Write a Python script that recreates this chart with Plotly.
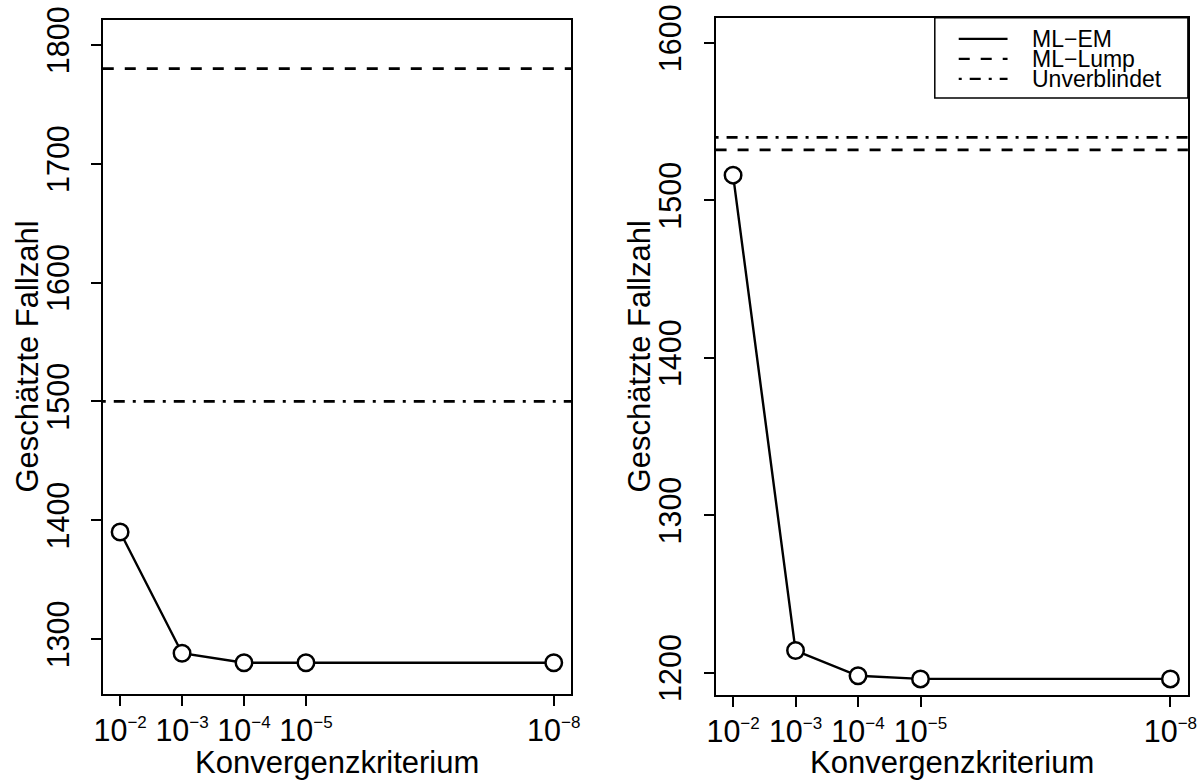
import plotly.graph_objects as go

# Convergence criteria (exponents of 10) and their positions on the x axis
exponents = [2, 3, 4, 5, 8]
x_positions = [1, 2, 3, 4, 8]

# Left panel: estimated sample size
left_ml_em = [1390, 1288, 1280, 1280, 1280]
left_ml_lump = 1780
left_unverblindet = 1500
left_yticks = [1300, 1400, 1500, 1600, 1700, 1800]

# Right panel: estimated sample size
right_ml_em = [1516, 1214, 1198, 1196, 1196]
right_ml_lump = 1532
right_unverblindet = 1540
right_yticks = [1200, 1300, 1400, 1500, 1600]

legend_labels = ["ML\u2212EM", "ML\u2212Lump", "Unverblindet"]

W, H = 1199, 780
FONT = "Liberation Sans, Arial, Helvetica, sans-serif"
DASH = "11px,11px"
DASHDOT = "3px,8px,11px,8px"

# Layout positions are written in screen pixels; the page places the figure
# with a small offset and scale, which these helpers undo.
OFF_X, SCALE_X = 7.9, 0.9885
OFF_Y, SCALE_Y = 12.6, 0.974


def px(x):
    return ((x - OFF_X) / SCALE_X) / W


def py(y):
    return 1 - ((y - OFF_Y) / SCALE_Y) / H


x_ticktext = [f"10<sup><span style='font-size:17px'>\u2212{e}</span></sup>" for e in exponents]

fig = go.Figure()

for ml_em, xa, ya in [(left_ml_em, "x", "y"), (right_ml_em, "x2", "y2")]:
    fig.add_trace(go.Scatter(
        x=x_positions, y=ml_em, xaxis=xa, yaxis=ya,
        mode="lines+markers",
        line=dict(color="black", width=2.4),
        marker=dict(symbol="circle", size=16.5, color="white",
                    line=dict(color="black", width=2.5)),
        showlegend=False, hoverinfo="skip",
    ))

shapes = []
for xa, ya, lump, unv in [("x", "y", left_ml_lump, left_unverblindet),
                          ("x2", "y2", right_ml_lump, right_unverblindet)]:
    shapes.append(dict(type="line", xref=f"{xa} domain", yref=ya,
                       x0=0, x1=1, y0=lump, y1=lump,
                       line=dict(color="black", width=2.8, dash=DASH), layer="below"))
    shapes.append(dict(type="line", xref=f"{xa} domain", yref=ya,
                       x0=0, x1=1, y0=unv, y1=unv,
                       line=dict(color="black", width=2.8, dash=DASHDOT), layer="below"))

# Legend box in the top-right corner of the right panel
shapes.append(dict(type="rect", xref="paper", yref="paper",
                   x0=px(937), x1=px(1191), y0=py(97.5), y1=py(17.3),
                   line=dict(color="black", width=1.5), fillcolor="white", layer="above"))
legend_rows = [38.5, 58.5, 78.5]
for row_y, dash in zip(legend_rows, ["solid", DASH, DASHDOT]):
    shapes.append(dict(type="line", xref="paper", yref="paper",
                       x0=px(961), x1=px(1010), y0=py(row_y), y1=py(row_y),
                       line=dict(color="black", width=2.2, dash=dash), layer="above"))

annotations = []
for row_y, label in zip(legend_rows, legend_labels):
    annotations.append(dict(x=px(1033), y=py(row_y), xref="paper", yref="paper",
                            text=label, showarrow=False, xanchor="left", yanchor="middle",
                            font=dict(family=FONT, size=23, color="black")))

# Axis titles
for cx in [337, 954]:
    annotations.append(dict(x=px(cx), y=py(762), xref="paper", yref="paper",
                            text="Konvergenzkriterium", showarrow=False,
                            xanchor="center", yanchor="middle",
                            font=dict(family=FONT, size=31, color="black")))
for cx in [26, 641]:
    annotations.append(dict(x=px(cx), y=py(356), xref="paper", yref="paper",
                            text="Geschätzte Fallzahl", showarrow=False, textangle=-90,
                            xanchor="center", yanchor="middle",
                            font=dict(family=FONT, size=31, color="black")))

axis_common = dict(showgrid=False, zeroline=False, showline=True, mirror=True,
                   linecolor="black", linewidth=1.8, ticks="outside", ticklen=10,
                   tickwidth=1.6, tickcolor="black", ticklabeloverflow="allow",
                   tickfont=dict(family=FONT, size=30.5, color="black"))

fig.update_layout(
    width=W, height=H,
    margin=dict(l=0, r=0, t=0, b=0),
    paper_bgcolor="white", plot_bgcolor="white",
    showlegend=False,
    shapes=shapes, annotations=annotations,
    xaxis=dict(domain=[px(102), px(572)], range=[0.72, 8.28], anchor="y",
               tickvals=x_positions, ticktext=x_ticktext, ticklabelstandoff=-1,
               **axis_common),
    yaxis=dict(domain=[py(693), py(19.5)], range=[1254, 1821], anchor="x",
               tickvals=left_yticks, tickangle=-90, ticklabelstandoff=10, **axis_common),
    xaxis2=dict(domain=[px(717), px(1191)], range=[0.72, 8.28], anchor="y2",
                tickvals=x_positions, ticktext=x_ticktext, ticklabelstandoff=-1,
                **axis_common),
    yaxis2=dict(domain=[py(694), py(17.3)], range=[1186, 1616], anchor="x2",
                tickvals=right_yticks, tickangle=-90, ticklabelstandoff=10, **axis_common),
)

fig.write_html("out.html")
